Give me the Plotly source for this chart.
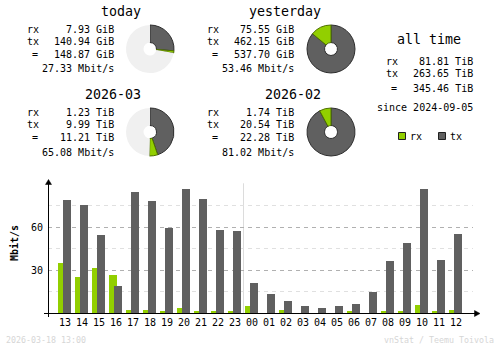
import plotly.graph_objects as go

W, H = 500, 348
MONO = "DejaVu Sans Mono"
RX_COLOR = "#92CF00"
TX_COLOR = "#606060"
RX_EDGE = "#4f7000"
TX_EDGE = "#2e2e2e"
EMPTY = "#f0f0f0"

# ---------------- data ----------------
hours = ["13", "14", "15", "16", "17", "18", "19", "20", "21", "22", "23",
         "00", "01", "02", "03", "04", "05", "06", "07", "08", "09", "10", "11", "12"]
rx_rate = [35.1, 25.3, 31.6, 26.7, 2.3, 2.3, 0.9, 3.7, 1.6, 0.9, 0.9,
           5.1, 0.0, 2.3, 0.0, 0.0, 0.0, 0.9, 0.0, 1.6, 0.9, 5.8, 0.9, 2.3]
tx_rate = [79.1, 75.6, 54.7, 19.1, 84.7, 78.4, 59.5, 86.7, 79.8, 58.1, 57.4,
           21.2, 13.5, 8.6, 5.1, 3.7, 5.1, 6.5, 14.9, 36.5, 49.1, 86.7, 37.2, 55.3]

periods = ["today", "yesterday", "2026-03", "2026-02"]
rx_amount = [7.93, 75.55, 1.23, 1.74]
tx_amount = [140.94, 462.15, 9.99, 20.54]
total_amount = [148.87, 537.70, 11.21, 22.28]
amount_unit = ["GiB", "GiB", "TiB", "TiB"]
avg_rate = [27.33, 53.46, 65.08, 81.02]

alltime_labels = ["rx", "tx", "="]
alltime_values = [81.81, 263.65, 345.46]
alltime_unit = "TiB"
since_date = "2024-09-05"
generated = "2026-03-18 13:00"
credit = "vnStat / Teemu Toivola"

# ---------------- helpers ----------------
def px(x):
    return x / W

def py(y):
    return 1 - y / H

annotations = []
shapes = []

def txt(x, y, s, size=10, anchor="left", color="#000000", angle=0):
    annotations.append(dict(x=px(x), y=py(y), xref="paper", yref="paper", text=s,
                            showarrow=False, xanchor=anchor, yanchor="middle",
                            textangle=angle, borderpad=0,
                            font=dict(family=MONO, size=size, color=color)))

def pline(x0, y0, x1, y1, color="#000000", width=1):
    shapes.append(dict(type="line", xref="paper", yref="paper",
                       x0=px(x0), y0=py(y0), x1=px(x1), y1=py(y1),
                       line=dict(color=color, width=width)))

def tri(pts, color="#000000"):
    path = "M " + " L ".join(f"{px(a)},{py(b)}" for a, b in pts) + " Z"
    shapes.append(dict(type="path", xref="paper", yref="paper", path=path,
                       fillcolor=color, line=dict(color=color, width=0.5)))

fig = go.Figure()

# ---------------- summary panels ----------------
panel_col = [0, 1, 0, 1]
panel_row = [0, 0, 1, 1]
col_shift = [0, 180]
pie_cx = [150, 331]
title_y = [12, 94.5]
rows_y = [[29, 41, 54.5, 68.5], [112, 124, 137.5, 152]]
pie_cy = [49, 132]
R = 24

for i, name in enumerate(periods):
    c, r = panel_col[i], panel_row[i]
    dx = col_shift[c]
    txt(142 + dx, title_y[r], name, size=13.3, anchor="right")
    ys = rows_y[r]
    txt(26 + dx, ys[0], "rx")
    txt(26 + dx, ys[1], "tx")
    txt(35 + dx, ys[2], "=", anchor="center")
    txt(115 + dx, ys[0], f"{rx_amount[i]:.2f} {amount_unit[i]}", anchor="right")
    txt(115 + dx, ys[1], f"{tx_amount[i]:.2f} {amount_unit[i]}", anchor="right")
    txt(115 + dx, ys[2], f"{total_amount[i]:.2f} {amount_unit[i]}", anchor="right")
    txt(115 + dx, ys[3], f"{avg_rate[i]:.2f} Mbit/s", anchor="right")

    # pie scaled against the larger total of its row pair
    ref = max(total_amount[2 * r], total_amount[2 * r + 1])
    vals = [tx_amount[i], rx_amount[i]]
    cols = [TX_COLOR, RX_COLOR]
    edges = [TX_EDGE, RX_EDGE]
    widths = [1, 1]
    rest = ref - total_amount[i]
    if rest > 1e-9:
        vals.append(rest)
        cols.append(EMPTY)
        edges.append(EMPTY)
        widths.append(0)
    cx, cy = pie_cx[c], pie_cy[r]
    fig.add_trace(go.Pie(values=vals, sort=False, direction="clockwise", rotation=0,
                         hole=0.27, textinfo="none", hoverinfo="skip", showlegend=False,
                         marker=dict(colors=cols, line=dict(color=edges, width=widths)),
                         domain=dict(x=[px(cx - R), px(cx + R)], y=[py(cy + R), py(cy - R)])))

# all time block
txt(429, 39.3, "all time", size=13.3, anchor="center")
at_y = [62, 73.7, 88]
for lab, val, yy in zip(alltime_labels, alltime_values, at_y):
    if lab == "=":
        txt(394, yy, lab, anchor="center")
    else:
        txt(385, yy, lab)
    txt(474, yy, f"{val:.2f} {alltime_unit}", anchor="right")
txt(474, 108, f"since {since_date}", anchor="right")

# legend
for (sx, lab, col, edge) in [(402, "rx", RX_COLOR, "#202020"), (442, "tx", TX_COLOR, "#202020")]:
    shapes.append(dict(type="rect", xref="paper", yref="paper",
                       x0=px(sx - 3.5), x1=px(sx + 3.5), y0=py(139.5), y1=py(132.5),
                       fillcolor=col, line=dict(color=edge, width=1)))
    txt(sx + 7, 136, lab)

# ---------------- hourly bar chart ----------------
xpos = list(range(len(hours)))
BW = 8 / 17
fig.add_trace(go.Bar(x=xpos, y=rx_rate, width=BW, offset=-7 / 17,
                     marker=dict(color=RX_COLOR, line=dict(width=0)),
                     showlegend=False, hoverinfo="skip", xaxis="x", yaxis="y"))
fig.add_trace(go.Bar(x=xpos, y=tx_rate, width=BW, offset=-2 / 17,
                     marker=dict(color=TX_COLOR, line=dict(width=0)),
                     showlegend=False, hoverinfo="skip", xaxis="x", yaxis="y"))

# day change line
day_idx = hours.index("00") - 0.5
shapes.append(dict(type="line", xref="x", yref="y", x0=day_idx, x1=day_idx, y0=0, y1=90.5,
                   line=dict(color="#dcdcdc", width=1), layer="below"))

# axes (drawn as lines with arrows)
pline(44, 313.5, 476, 313.5)
pline(48.5, 317, 48.5, 183)
tri([(48.5, 179.5), (45.5, 184.5), (51.5, 184.5)])
tri([(480, 313.5), (474.5, 310.5), (474.5, 316.5)])

txt(14, 243, "<b>Mbit/s</b>", size=10, anchor="center", angle=-90)

txt(5, 340, generated, size=8.3, color="#d6d6d6")
txt(495, 340, credit, size=8.3, anchor="right", color="#d6d6d6")

fig.update_layout(
    width=W, height=H, autosize=False,
    margin=dict(l=0, r=0, t=0, b=0, pad=0),
    paper_bgcolor="#ffffff", plot_bgcolor="#ffffff",
    barmode="overlay", bargap=0,
    xaxis=dict(domain=[px(48), px(473)], range=[-1, 24], tickmode="array",
               tickvals=xpos, ticktext=hours, showgrid=False, zeroline=False,
               showline=False, ticks="", ticklabelstandoff=2,
               tickfont=dict(family=MONO, size=10, color="#000000"), fixedrange=True),
    yaxis=dict(domain=[py(313), py(181)], range=[0, 92.1], tickmode="array",
               tickvals=[30, 60], ticktext=["30", "60"], showgrid=True,
               gridcolor="#b0b0b0", griddash="4px,4px", gridwidth=1,
               zeroline=False, showline=False, ticks="", ticklabelstandoff=4,
               minor=dict(tickmode="array", tickvals=[15, 45, 75], showgrid=True,
                          gridcolor="#e0e0e0", griddash="4px,4px", gridwidth=1, ticks=""),
               tickfont=dict(family=MONO, size=10, color="#000000"), fixedrange=True),
    annotations=annotations,
    shapes=shapes,
    showlegend=False,
)

fig.write_html("out.html")
